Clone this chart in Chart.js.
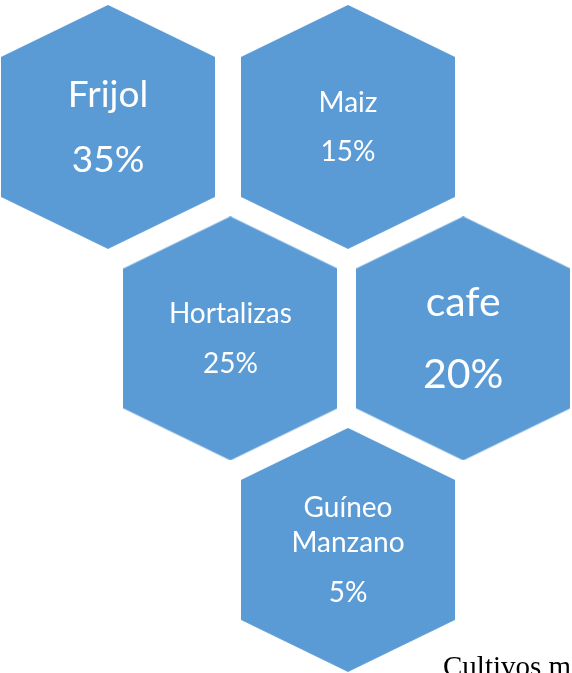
<!DOCTYPE html>
<html lang="es">
<meta charset="utf-8" />
<title>Cultivos</title>
<script src="https://cdn.jsdelivr.net/npm/chart.js@4.4.1"></script>
<style>
html,body{margin:0;padding:0;background:#fff;overflow:hidden}
canvas{display:block}
</style>
<body>
<canvas id="chart" width="572" height="673"></canvas>
<script>
/*── datos ──*/
const cultivos   = ['Frijol', 'Maiz', 'Hortalizas', 'cafe', ['Guíneo', 'Manzano']];
const porcentaje = [35, 15, 25, 20, 5];
// posición en la rejilla de hexágonos (columna, fila)
const columna    = [0, 1, 0.51, 1.48, 1];
const fila       = [0, 0, 1, 1, 2];
const titulo     = 'Cultivos más';

/* estilo */
const AZUL = '#5B9BD5';
const tamLetra = [37, 28, 28, 41, 28];

/* hexágono como pointStyle */
function hexagono(w, h, s){
  const c = document.createElement('canvas');
  c.width = w; c.height = h;
  const g = c.getContext('2d');
  g.fillStyle = AZUL;
  g.beginPath();
  g.moveTo(w/2, 0);
  g.lineTo(w, s);
  g.lineTo(w, h - s);
  g.lineTo(w/2, h);
  g.lineTo(0, h - s);
  g.lineTo(0, s);
  g.closePath();
  g.fill();
  return c;
}
const hex = hexagono(214, 244, 52);

/* textos dentro de cada hexágono */
const etiquetas = {
  id: 'etiquetas',
  afterDatasetsDraw(chart){
    const ctx = chart.ctx;
    const pts = chart.getDatasetMeta(0).data;
    ctx.save();
    ctx.fillStyle = '#fff';
    ctx.textAlign = 'center';
    ctx.textBaseline = 'alphabetic';
    pts.forEach((p, i) => {
      const fs = tamLetra[i];
      const nombre = [].concat(cultivos[i]);
      ctx.font = fs + 'px Lato';
      let y = p.y - 0.54*fs - (nombre.length-1)*0.62*fs;
      nombre.forEach(t => { ctx.fillText(t, p.x, y); y += 1.25*fs; });
      y += 0.51*fs;
      ctx.fillText(porcentaje[i] + '%', p.x, y);
    });
    // título (cortado por el borde, como en el original)
    ctx.fillStyle = '#000';
    ctx.textAlign = 'left';
    ctx.font = '29px "Liberation Serif"';
    ctx.fillText(titulo, 443, 676);
    ctx.restore();
  }
};

new Chart(document.getElementById('chart'), {
  type: 'scatter',
  data: {
    datasets: [{
      data: columna.map((c, i) => ({ x: c, y: fila[i] })),
      pointStyle: hex,
      pointRadius: 10,
      pointHoverRadius: 10
    }]
  },
  options: {
    responsive: false,
    animation: false,
    events: [],
    layout: { padding: 0, autoPadding: false },
    plugins: { legend: { display: false }, tooltip: { enabled: false } },
    scales: {
      x: { display: false, min: -0.45, max: -0.45 + 572/240 },
      y: { display: false, reverse: true, min: -0.6, max: -0.6 + 673/211.5 }
    }
  },
  plugins: [etiquetas]
});
</script>
</body>
</html>
